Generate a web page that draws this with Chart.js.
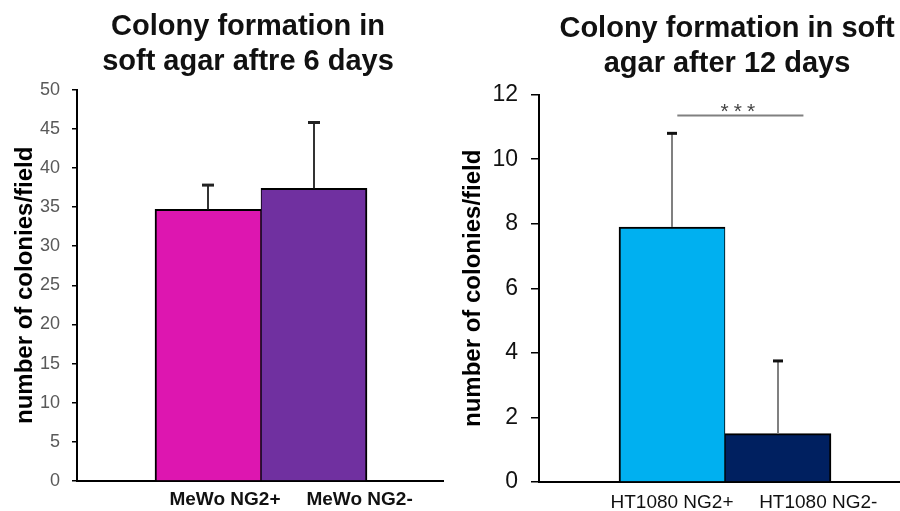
<!DOCTYPE html>
<html>
<head>
<meta charset="utf-8">
<script src="https://cdn.jsdelivr.net/npm/chart.js@4"></script>
<style>
html, body { margin: 0; padding: 0; background: #fff; width: 900px; height: 511px; overflow: hidden; position: relative; }
.panel { position: absolute; top: 0; height: 511px; }
#wrapLeft { left: 0; width: 496px; }
#wrapRight { left: 450px; width: 554px; }
</style>
</head>
<body>
<div class="panel" id="wrapLeft"><canvas id="chartLeft"></canvas></div>
<div class="panel" id="wrapRight"><canvas id="chartRight"></canvas></div>
<script>
// MeWo, 6 days
const mewoLabels = ['MeWo NG2+', 'MeWo NG2-'];
const mewoValues = [34.7, 37.4];
const mewoErrors = [3.1, 8.4];
const mewoColors = ['#DD16B0', '#7030A0'];
const mewoTicks = [0, 5, 10, 15, 20, 25, 30, 35, 40, 45, 50];

// HT1080, 12 days
const htLabels = ['HT1080 NG2+', 'HT1080 NG2-'];
const htValues = [7.9, 1.5];
const htErrors = [2.9, 2.25];
const htColors = ['#00B0F0', '#002060'];
const htTicks = [0, 2, 4, 6, 8, 10, 12];
const htSig = '***';
const htSigLevel = 11.35;

const FONT = '"Liberation Sans", Arial, sans-serif';
Chart.defaults.font.family = FONT;

const errorBars = {
    id: 'errorBars',
    afterDatasetsDraw(chart, args, opts) {
        const { ctx, scales: { y } } = chart;
        const ds = chart.data.datasets[0];
        ctx.save();
        chart.getDatasetMeta(0).data.forEach((bar, i) => {
            const top = y.getPixelForValue(ds.data[i].y + opts.errors[i]);
            ctx.strokeStyle = opts.lineColor;
            ctx.lineWidth = 2;
            ctx.beginPath();
            ctx.moveTo(bar.x, bar.y);
            ctx.lineTo(bar.x, top);
            ctx.stroke();
            ctx.strokeStyle = opts.capColor;
            ctx.lineWidth = 3;
            ctx.beginPath();
            ctx.moveTo(bar.x - opts.capWidth / 2, top);
            ctx.lineTo(bar.x + opts.capWidth / 2, top);
            ctx.stroke();
        });
        ctx.restore();
    },
};

const sigBracket = {
    id: 'sigBracket',
    afterDatasetsDraw(chart, args, opts) {
        const { ctx, scales: { x, y } } = chart;
        const yy = y.getPixelForValue(opts.level);
        const xa = x.getPixelForValue(opts.from);
        const xb = x.getPixelForValue(opts.to);
        ctx.save();
        ctx.strokeStyle = '#808080';
        ctx.lineWidth = 2;
        ctx.beginPath();
        ctx.moveTo(xa, yy);
        ctx.lineTo(xb, yy);
        ctx.stroke();
        ctx.fillStyle = '#444';
        ctx.font = '21px ' + FONT;
        ctx.textAlign = 'center';
        ctx.textBaseline = 'alphabetic';
        ctx.letterSpacing = '5px';
        ctx.fillText(opts.label, (xa + xb) / 2, yy + 2);
        ctx.restore();
    },
};

function buildChart(id, cfg) {
    return new Chart(document.getElementById(id), {
        type: 'bar',
        data: {
            datasets: [{
                data: cfg.values.map((v, i) => ({ x: i + 1, y: v })),
                backgroundColor: cfg.colors,
                borderColor: '#000',
                borderWidth: c => ({ top: 2, bottom: 0, left: c.dataIndex === 0 ? 2 : 1, right: c.dataIndex === 0 ? 1 : 2 }),
                borderSkipped: false,
                barPercentage: 1,
                categoryPercentage: 1,
            }],
        },
        plugins: cfg.plugins,
        options: {
            responsive: true,
            maintainAspectRatio: false,
            animation: false,
            layout: { padding: 0 },
            plugins: {
                legend: { display: false },
                tooltip: { enabled: false },
                title: {
                    display: true,
                    text: cfg.title,
                    color: '#111',
                    font: { size: 29, weight: 'bold', lineHeight: 1.2 },
                    padding: cfg.titlePad,
                },
                errorBars: cfg.errorOpts,
                sigBracket: cfg.sigOpts,
            },
            scales: {
                x: {
                    type: 'linear',
                    min: cfg.xMin,
                    max: cfg.xMax,
                    offset: false,
                    afterBuildTicks: s => { s.ticks = cfg.labelPos.map(v => ({ value: v })); },
                    afterFit: s => { s.height = cfg.xHeight; },
                    grid: { display: false, drawTicks: false },
                    border: { display: true, color: '#000', width: 2 },
                    ticks: {
                        callback: (v, i) => cfg.labels[i],
                        autoSkip: false,
                        maxRotation: 0,
                        padding: cfg.xPad,
                        color: '#111',
                        font: cfg.xFont,
                    },
                },
                y: {
                    min: 0,
                    max: cfg.yTicks[cfg.yTicks.length - 1],
                    afterBuildTicks: s => { s.ticks = cfg.yTicks.map(v => ({ value: v })); },
                    afterFit: s => { s.width = cfg.yWidth; },
                    grid: { drawOnChartArea: false, drawTicks: true, tickLength: cfg.tickLen, color: '#000', lineWidth: 1.5 },
                    border: { display: true, color: '#000', width: 2 },
                    ticks: { padding: cfg.yPad, color: cfg.yColor, font: { size: cfg.ySize } },
                    title: {
                        display: true,
                        text: 'number of colonies/field',
                        color: '#000',
                        font: { size: 24, weight: 'bold' },
                        padding: { top: cfg.yTitlePad, bottom: 0 },
                    },
                },
                // empty box on the right so the title sits where the original has it
                spacer: {
                    type: 'linear',
                    position: 'right',
                    display: true,
                    grid: { display: false },
                    border: { display: false },
                    ticks: { display: false },
                    afterFit: s => { s.width = cfg.padRight; },
                },
            },
        },
    });
}

buildChart('chartLeft', {
    title: ['Colony formation in', 'soft agar aftre 6 days'],
    titlePad: { top: 10, bottom: 10 },
    labels: mewoLabels,
    values: mewoValues,
    colors: mewoColors,
    yTicks: mewoTicks,
    labelPos: [1.16, 2.43],
    xMin: -0.236, xMax: 3.217,
    padRight: 53,
    xHeight: 30, xPad: 7,
    xFont: { size: 19, weight: 'bold' },
    yWidth: 77, tickLen: 5, yPad: 12, yColor: '#595959', ySize: 18, yTitlePad: 11,
    plugins: [errorBars],
    errorOpts: { errors: mewoErrors, lineColor: '#333', capColor: '#222', capWidth: 12 },
});

buildChart('chartRight', {
    title: ['Colony formation in soft', 'agar after 12 days'],
    titlePad: { top: 12, bottom: 13 },
    labels: htLabels,
    values: htValues,
    colors: htColors,
    yTicks: htTicks,
    labelPos: [1.0, 2.38],
    xMin: -0.255, xMax: 3.255,
    padRight: 93,
    xHeight: 29, xPad: 9,
    xFont: { size: 19 },
    yWidth: 89, tickLen: 8, yPad: 13, yColor: '#111', ySize: 23, yTitlePad: 9,
    plugins: [errorBars, sigBracket],
    errorOpts: { errors: htErrors, lineColor: '#808080', capColor: '#111', capWidth: 10 },
    sigOpts: { from: 1.05, to: 2.24, level: htSigLevel, label: htSig },
});
</script>
</body>
</html>
